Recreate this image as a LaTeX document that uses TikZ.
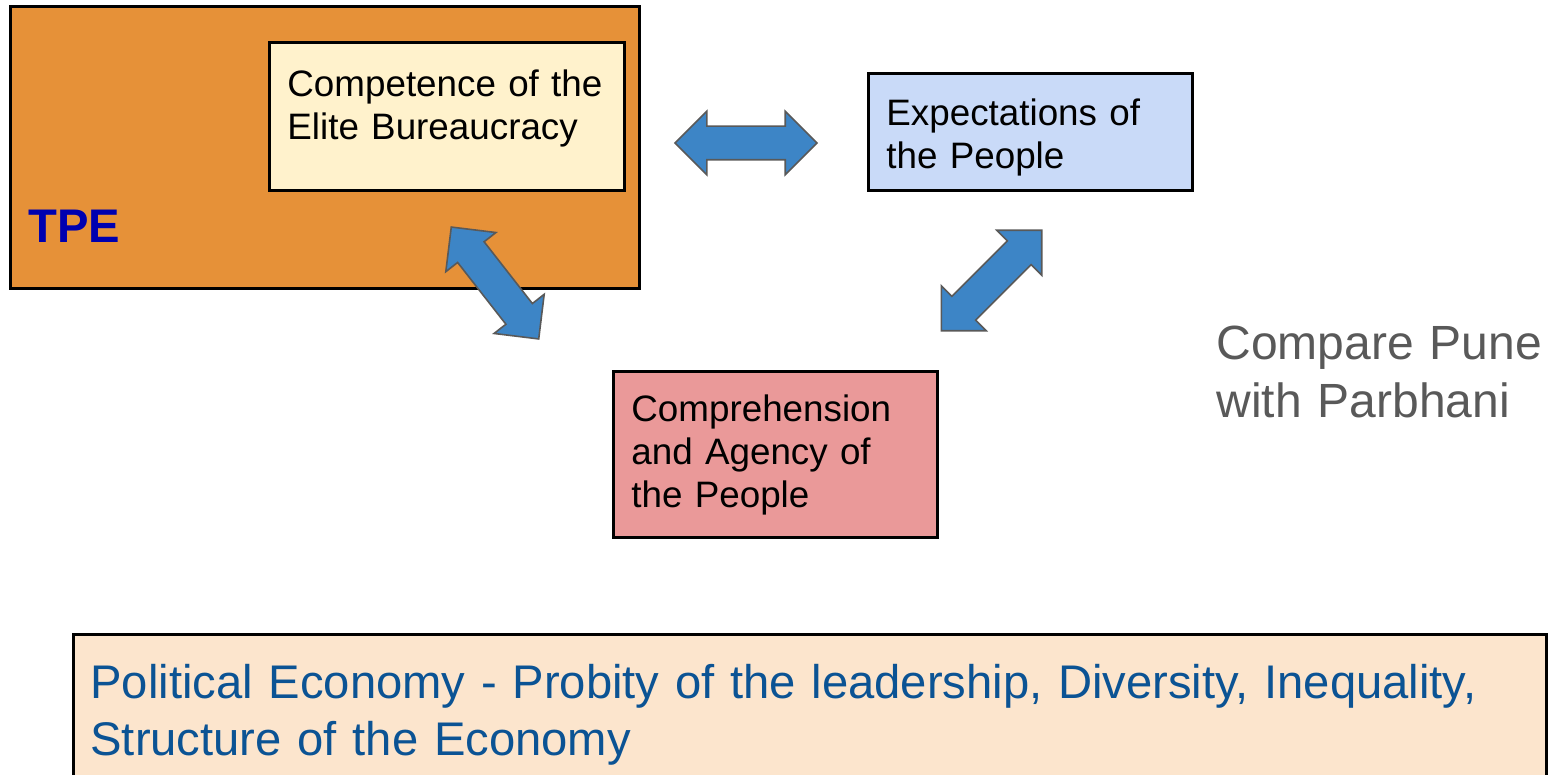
\documentclass[tikz,border=0pt]{standalone}
\usepackage{fontspec}
\setmainfont{Liberation Sans}
\usetikzlibrary{shapes.arrows}

\definecolor{tpeorange}{HTML}{E69138}
\definecolor{tpeblue}{RGB}{0,0,176}
\definecolor{elitefill}{HTML}{FFF2CC}
\definecolor{expectfill}{HTML}{C9DAF8}
\definecolor{agencyfill}{HTML}{EA9999}
\definecolor{polfill}{HTML}{FCE5CD}
\definecolor{poltext}{HTML}{0B5394}
\definecolor{arrowblue}{HTML}{3D85C6}
\definecolor{arrowgray}{HTML}{595959}

\begin{document}
\begin{tikzpicture}[x=0.5pt, y=-0.5pt,
  box/.style={rectangle, draw=black, line width=1.5pt, inner sep=0pt, outer sep=0pt, anchor=north west},
  boxtext/.style={anchor=base west, inner sep=0pt, text width=200pt, align=left,
    font=\fontsize{18.4}{21.5}\selectfont},
  blockarrow/.style={double arrow, draw=arrowgray, fill=arrowblue, line width=0.8pt,
    inner xsep=0pt, inner ysep=8pt, minimum height=71pt, minimum width=31pt,
    double arrow head extend=7.5pt}]
\useasboundingbox (0,0) rectangle (1549,775);
\clip (0,0) rectangle (1549,775);

% boxes
\node[box, fill=tpeorange, minimum width=314.5pt, minimum height=141pt] (tpe) at (10.5,6.5) {};
\node[anchor=base west, inner sep=0pt, text=tpeblue, font=\bfseries\fontsize{23.6}{28}\selectfont] (tpelabel) at (28,243) {TPE};
\node[box, fill=elitefill, minimum width=177.5pt, minimum height=74pt] (elite) at (269.5,42.5) {};
\node[boxtext] (elitetext) at (287,97) {Competence of the\\Elite Bureaucracy};
\node[box, fill=expectfill, minimum width=162pt, minimum height=58.5pt] (expect) at (868.5,73.5) {};
\node[boxtext] (expecttext) at (886,126) {Expectations of\\the People};
\node[box, fill=agencyfill, minimum width=162pt, minimum height=83pt] (agency) at (613.5,371.5) {};
\node[boxtext] (agencytext) at (631,422) {Comprehension\\and Agency of\\the People};

% block arrows
\node[blockarrow] (arrowtop) at (746,143) {};
\node[blockarrow, rotate=-52] (arrowleft) at (495,283) {};
\node[blockarrow, rotate=45] (arrowright) at (991.5,280.5) {};

% side note
\node[anchor=base west, inner sep=0pt, text width=200pt, align=left, text=arrowgray,
  font=\fontsize{24}{29}\selectfont] (compare) at (1216,360) {Compare Pune\\with Parbhani};

% political economy
\node[box, fill=polfill, minimum width=736.5pt, minimum height=90pt] (polecon) at (73.5,634.5) {};
\node[anchor=base west, inner sep=0pt, text width=720pt, align=left, text=poltext,
  font=\fontsize{23.6}{28.5}\selectfont] (polectext) at (90,698) {Political Economy - Probity of the leadership, Diversity, Inequality,\\Structure of the Economy};
\end{tikzpicture}
\end{document}
